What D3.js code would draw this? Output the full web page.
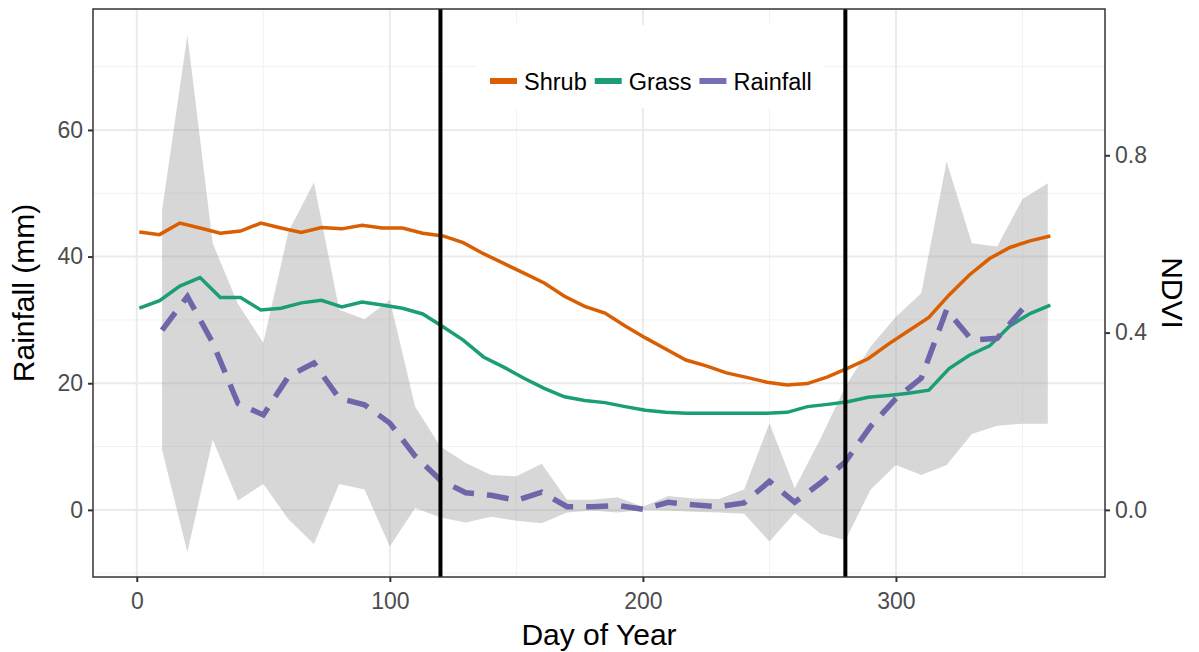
<!DOCTYPE html>
<html>
<head>
<meta charset="utf-8">
<script src="https://cdn.jsdelivr.net/npm/d3@7"></script>
<style>
  body { margin: 0; background: #fff; }
  text { font-family: "Liberation Sans", Arial, sans-serif; }
</style>
</head>
<body>
<div id="chart"></div>
<script>
// NDVI composites (8-day) and rainfall (10-day) series
var ndviDays = [1,9,17,25,33,41,49,57,65,73,81,89,97,105,113,121,129,137,145,153,161,169,177,185,193,201,209,217,225,233,241,249,257,265,273,281,289,297,305,313,321,329,337,345,353,361];
var shrub = [0.627,0.621,0.647,0.636,0.624,0.629,0.647,0.636,0.626,0.637,0.634,0.642,0.636,0.636,0.624,0.618,0.603,0.578,
             0.556,0.534,0.512,0.482,0.459,0.444,0.415,0.388,0.363,0.338,0.325,0.309,0.299,0.288,0.282,0.285,0.300,0.320,
             0.341,0.374,0.404,0.434,0.485,0.530,0.567,0.592,0.607,0.618];
var grass = [0.455,0.472,0.505,0.524,0.479,0.479,0.451,0.455,0.467,0.473,0.458,0.469,0.462,0.455,0.442,0.413,0.383,0.345,
             0.322,0.297,0.274,0.255,0.247,0.242,0.233,0.225,0.220,0.218,0.218,0.218,0.218,0.218,0.220,0.233,0.238,0.244,
             0.254,0.258,0.263,0.270,0.319,0.349,0.370,0.415,0.443,0.462];

var rainDays = [10,20,30,40,50,60,70,80,90,100,110,120,130,140,150,160,170,180,190,200,210,220,230,240,250,260,270,280,290,300,310,320,330,340,350,360];
var rainMean = [28.4,33.7,26.4,16.8,15.0,21.1,23.2,17.6,16.6,13.7,8.5,4.7,2.7,2.3,1.5,2.8,0.5,0.5,0.7,0.1,
                1.2,0.8,0.5,1.1,4.5,1.2,4.2,7.6,13.2,17.6,20.8,31.6,26.8,27.1,31.7,null];
var rainHigh = [47.3,75.0,42.1,32.5,26.4,44.0,51.7,31.6,30.1,33.2,16.3,10.0,7.4,5.5,5.3,7.3,1.6,1.6,2.0,0.5,
                2.2,1.8,1.7,3.2,13.7,3.4,11.1,19.5,25.8,30.5,34.2,55.0,42.1,41.6,49.1,51.6];
var rainLow  = [9.5,-6.7,11.1,1.5,4.1,-1.5,-5.4,4.1,3.2,-5.8,0.3,-1.2,-2.0,-1.1,-1.7,-2.1,-0.4,-0.1,-0.4,0.0,
                -0.1,-0.3,-0.4,-0.6,-5.0,-0.5,-3.7,-4.8,3.2,7.1,5.5,7.1,12.0,13.3,13.6,13.6];

var seasonBreaks = [120, 280];
var xTicks = [0,100,200,300];
var rainTicks = [0,20,40,60];
var ndviTicks = [0.0,0.4,0.8];
var legendNames = ["Shrub","Grass","Rainfall"];
var colors = {Shrub:"#d95f02", Grass:"#1b9e77", Rainfall:"#7570b3"};
var rainPerNdvi = 70;

var width = 1199, height = 652;
var panel = {left: 93, right: 1105, top: 9, bottom: 577};

var svg = d3.select("#chart").append("svg").attr("width",width).attr("height",height);

var x = d3.scaleLinear().domain([-17.3,382.6]).range([panel.left,panel.right]);
var yRain = d3.scaleLinear().domain([-10.6,79.1]).range([panel.bottom,panel.top]);
var yNdvi = d3.scaleLinear().domain([-10.6/rainPerNdvi,79.1/rainPerNdvi]).range([panel.bottom,panel.top]);

// grid lines
var grid = svg.append("g");
[50,150,250,350].forEach(function(v){
  grid.append("line").attr("x1",x(v)).attr("x2",x(v)).attr("y1",panel.top).attr("y2",panel.bottom)
    .attr("stroke","#f2f2f2").attr("stroke-width",1);
});
[-10,10,30,50,70].forEach(function(v){
  grid.append("line").attr("y1",yRain(v)).attr("y2",yRain(v)).attr("x1",panel.left).attr("x2",panel.right)
    .attr("stroke","#f2f2f2").attr("stroke-width",1);
});
xTicks.forEach(function(v){
  grid.append("line").attr("x1",x(v)).attr("x2",x(v)).attr("y1",panel.top).attr("y2",panel.bottom)
    .attr("stroke","#ebebeb").attr("stroke-width",2);
});
rainTicks.forEach(function(v){
  grid.append("line").attr("y1",yRain(v)).attr("y2",yRain(v)).attr("x1",panel.left).attr("x2",panel.right)
    .attr("stroke","#ebebeb").attr("stroke-width",2);
});

// rainfall ribbon
var rainRows = rainDays.map(function(d,i){ return {day:d, mean:rainMean[i], lo:rainLow[i], hi:rainHigh[i]}; });
svg.append("path").datum(rainRows)
  .attr("d", d3.area().x(function(d){return x(d.day);}).y0(function(d){return yRain(d.lo);}).y1(function(d){return yRain(d.hi);}))
  .attr("fill","#9a9a9a").attr("fill-opacity",0.4);

// NDVI lines
var ndviLine = function(vals){
  return d3.line().x(function(d,i){return x(ndviDays[i]);}).y(function(d){return yNdvi(d);})(vals);
};
svg.append("path").attr("d",ndviLine(shrub)).attr("fill","none").attr("stroke",colors.Shrub).attr("stroke-width",3.5);
svg.append("path").attr("d",ndviLine(grass)).attr("fill","none").attr("stroke",colors.Grass).attr("stroke-width",3.5);

// rainfall mean, dashed
svg.append("path").datum(rainRows)
  .attr("d", d3.line().defined(function(d){return d.mean!==null;}).x(function(d){return x(d.day);}).y(function(d){return yRain(d.mean);}))
  .attr("fill","none").attr("stroke","#6d67aa").attr("stroke-width",5.5).attr("stroke-dasharray","22,13");

// season boundaries
seasonBreaks.forEach(function(v){
  svg.append("line").attr("x1",x(v)).attr("x2",x(v)).attr("y1",panel.top).attr("y2",panel.bottom)
    .attr("stroke","#000").attr("stroke-width",4);
});

// legend
var leg = svg.append("g");
leg.append("rect").attr("x",477).attr("y",25).attr("width",346).attr("height",83).attr("fill","#fff");
var lx = 490, ly = 81;
legendNames.forEach(function(name){
  leg.append("line").attr("x1",lx).attr("x2",lx+27).attr("y1",ly).attr("y2",ly)
    .attr("stroke",colors[name]).attr("stroke-width",6);
  var t = leg.append("text").attr("x",lx+34).attr("y",ly+8.5).attr("font-size","23.5px").attr("fill","#000").text(name);
  lx = lx + 34 + t.node().getComputedTextLength() + 8;
});

// panel border
svg.append("rect").attr("x",panel.left).attr("y",panel.top)
  .attr("width",panel.right-panel.left).attr("height",panel.bottom-panel.top)
  .attr("fill","none").attr("stroke","#333").attr("stroke-width",1.5);

// axes
var axisBottom = svg.append("g").attr("transform","translate(0,"+panel.bottom+")")
  .call(d3.axisBottom(x).tickValues(xTicks).tickSize(5).tickPadding(5));
var axisLeft = svg.append("g").attr("transform","translate("+panel.left+",0)")
  .call(d3.axisLeft(yRain).tickValues(rainTicks).tickSize(5).tickPadding(5));
var axisRight = svg.append("g").attr("transform","translate("+panel.right+",0)")
  .call(d3.axisRight(yNdvi).tickValues(ndviTicks).tickFormat(d3.format(".1f")).tickSize(5).tickPadding(5));
[axisBottom,axisLeft,axisRight].forEach(function(a){
  a.select(".domain").remove();
  a.selectAll(".tick line").attr("stroke","#333").attr("stroke-width",2);
  a.selectAll(".tick text").attr("fill","#4d4d4d").style("font-size","23px")
    .style("font-family","'Liberation Sans', Arial, sans-serif");
});
axisBottom.selectAll(".tick text").attr("dy","0.95em");

// axis titles
svg.append("text").attr("x",(panel.left+panel.right)/2).attr("y",645).attr("text-anchor","middle")
  .attr("font-size","30px").text("Day of Year");
svg.append("text").attr("transform","translate(34,"+((panel.top+panel.bottom)/2)+") rotate(-90)")
  .attr("text-anchor","middle").attr("font-size","30px").text("Rainfall (mm)");
svg.append("text").attr("transform","translate(1162,"+((panel.top+panel.bottom)/2)+") rotate(90)")
  .attr("text-anchor","middle").attr("font-size","30px").text("NDVI");
</script>
</body>
</html>
